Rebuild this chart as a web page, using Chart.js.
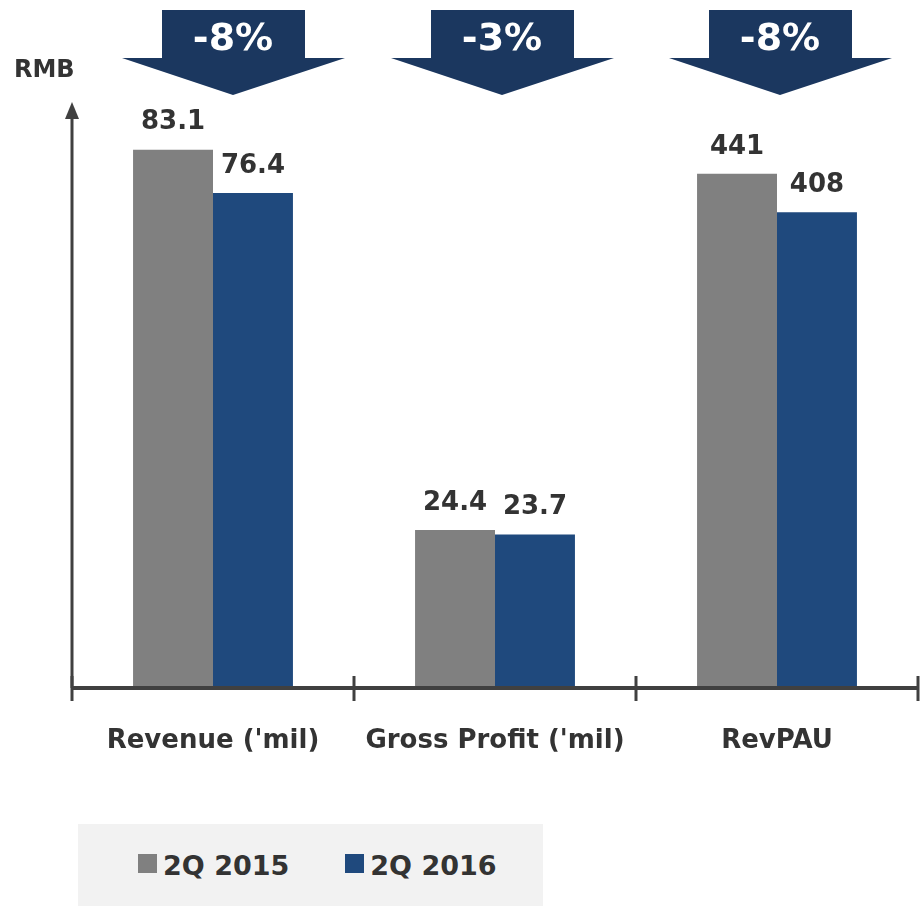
<!DOCTYPE html>
<html>
<head>
<meta charset="utf-8">
<script src="https://cdn.jsdelivr.net/npm/chart.js@4.4.0/dist/chart.umd.min.js"></script>
<style>
  html, body { margin: 0; padding: 0; background: #fff; }
  #wrap { position: relative; width: 923px; height: 909px; }
  #legend {
    position: absolute; left: 78px; top: 824px; width: 465px; height: 82px;
    background: #f2f2f2; display: flex; align-items: center; padding-left: 60px; box-sizing: border-box;
    font-family: "DejaVu Sans", sans-serif; font-weight: bold; font-size: 27px; color: #333;
    white-space: nowrap;
  }
  #legend .item { display: flex; align-items: center; margin-right: 56px; flex: none; }
  #legend .box { width: 19px; height: 19px; margin-right: 6px; margin-top: -4px; flex: none; }
</style>
</head>
<body>
<div id="wrap">
  <canvas id="barChart" width="923" height="909"></canvas>
  <div id="legend"></div>
</div>
<script>
const categories = ["Revenue ('mil)", "Gross Profit ('mil)", 'RevPAU'];
const seriesNames = ['2Q 2015', '2Q 2016'];
const values2015 = [83.1, 24.4, 441];
const values2016 = [76.4, 23.7, 408];
const changes = ['-8%', '-3%', '-8%'];
// RevPAU is drawn on its own visual scale in the source chart
const barScale = [1, 1, 0.18];

const colors = ['#808080', '#1f497d'];
const arrowColor = '#1b375f';
const axisColor = '#404040';
const textColor = '#333333';
const fontFamily = '"DejaVu Sans", sans-serif';

const chartOverlay = {
  id: 'chartOverlay',
  afterDatasetsDraw(chart) {
    const { ctx, chartArea, scales } = chart;
    const x = scales.x;
    const y0 = chartArea.bottom;

    ctx.save();
    ctx.strokeStyle = axisColor;
    ctx.fillStyle = axisColor;

    // y axis with arrow head
    ctx.lineWidth = 3;
    ctx.beginPath();
    ctx.moveTo(chartArea.left, y0);
    ctx.lineTo(chartArea.left, chartArea.top + 8);
    ctx.stroke();
    ctx.beginPath();
    ctx.moveTo(chartArea.left, chartArea.top - 3);
    ctx.lineTo(chartArea.left - 7, chartArea.top + 14);
    ctx.lineTo(chartArea.left + 7, chartArea.top + 14);
    ctx.closePath();
    ctx.fill();

    // x axis with category ticks
    ctx.lineWidth = 4;
    ctx.beginPath();
    ctx.moveTo(chartArea.left, y0);
    ctx.lineTo(chartArea.right, y0);
    ctx.stroke();
    ctx.lineWidth = 3;
    const step = (chartArea.right - chartArea.left) / categories.length;
    for (let i = 0; i <= categories.length; i++) {
      const tx = chartArea.left + i * step;
      ctx.beginPath();
      ctx.moveTo(tx, y0 - 12);
      ctx.lineTo(tx, y0 + 13);
      ctx.stroke();
    }

    // value labels
    ctx.fillStyle = textColor;
    ctx.font = 'bold 26px ' + fontFamily;
    ctx.textAlign = 'center';
    ctx.textBaseline = 'middle';
    const raw = [values2015, values2016];
    chart.data.datasets.forEach((ds, di) => {
      chart.getDatasetMeta(di).data.forEach((bar, i) => {
        ctx.fillText(String(raw[di][i]), bar.x, bar.y - 27);
      });
    });

    // change arrows
    const shift = [20, 7, 3];
    categories.forEach((c, i) => {
      const cx = x.getPixelForValue(i) + shift[i];
      ctx.fillStyle = arrowColor;
      ctx.beginPath();
      ctx.moveTo(cx - 71, 10);
      ctx.lineTo(cx + 72, 10);
      ctx.lineTo(cx + 72, 58);
      ctx.lineTo(cx + 112, 58);
      ctx.lineTo(cx, 95);
      ctx.lineTo(cx - 111, 58);
      ctx.lineTo(cx - 71, 58);
      ctx.closePath();
      ctx.fill();
      ctx.fillStyle = '#ffffff';
      ctx.font = 'bold 38px ' + fontFamily;
      ctx.fillText(changes[i], cx, 40);
    });

    // unit label
    ctx.fillStyle = textColor;
    ctx.font = 'bold 24px ' + fontFamily;
    ctx.textAlign = 'left';
    ctx.fillText('RMB', 14, 71);
    ctx.restore();
  }
};

const ctx = document.getElementById('barChart').getContext('2d');
new Chart(ctx, {
  type: 'bar',
  data: {
    labels: categories,
    datasets: [
      { label: seriesNames[0], data: values2015.map((v, i) => v * barScale[i]), backgroundColor: colors[0] },
      { label: seriesNames[1], data: values2016.map((v, i) => v * barScale[i]), backgroundColor: colors[1] }
    ]
  },
  options: {
    responsive: false,
    animation: false,
    layout: { padding: { top: 105, left: 72, right: 5, bottom: 0 } },
    datasets: { bar: { barPercentage: 1, categoryPercentage: 0.567 } },
    scales: {
      y: { display: false, min: 0, max: 90 },
      x: {
        grid: { display: false },
        border: { display: false },
        ticks: { color: textColor, font: { family: fontFamily, weight: 'bold', size: 26 }, padding: 30 },
        afterFit(scale) { scale.height = 221; }
      }
    },
    plugins: { legend: { display: false }, tooltip: { enabled: false } }
  },
  plugins: [chartOverlay]
});

const legendEl = document.getElementById('legend');
seriesNames.forEach((name, i) => {
  const item = document.createElement('div');
  item.className = 'item';
  item.innerHTML = '<span class="box" style="background:' + colors[i] + '"></span><span>' + name + '</span>';
  legendEl.appendChild(item);
});
</script>
</body>
</html>
